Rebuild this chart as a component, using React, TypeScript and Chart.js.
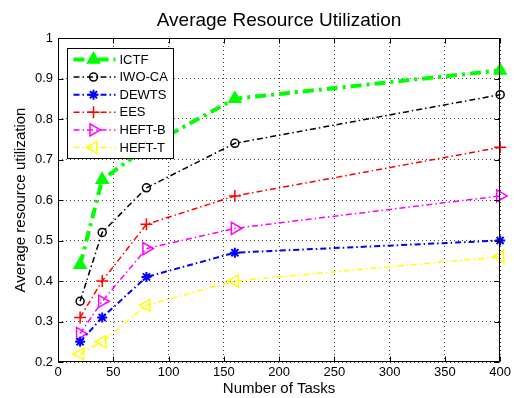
import React, { useEffect, useRef } from 'react';
import { Chart, registerables } from 'chart.js';

Chart.register(...registerables);

// ---- data ----
const taskCounts = [20, 40, 80, 160, 400];
const ictf = [0.44, 0.65, 0.73, 0.85, 0.92];
const iwoca = [0.35, 0.52, 0.63, 0.74, 0.86];
const dewts = [0.25, 0.31, 0.41, 0.47, 0.5];
const ees = [0.31, 0.4, 0.54, 0.61, 0.73];
const heftB = [0.27, 0.35, 0.48, 0.53, 0.61];
const heftT = [0.22, 0.25, 0.34, 0.4, 0.46];
const seriesNames = ['ICTF', 'IWO-CA', 'DEWTS', 'EES', 'HEFT-B', 'HEFT-T'];
const titleText = 'Average Resource Utilization';
const xTitle = 'Number of Tasks';
const yTitle = 'Average resource utilization';

const FONT = '"Liberation Sans", Arial, Helvetica, sans-serif';

type SeriesStyle = {
  color: string;
  width: number;
  dash: number[];
  marker: string;
  radius: number;
  rotation: number;
  filled: boolean;
  markerWidth: number;
};

const styles: SeriesStyle[] = [
  { color: '#00ff00', width: 4, dash: [11, 5, 3, 5], marker: 'triangle', radius: 7, rotation: 0, filled: true, markerWidth: 1.5 },
  { color: '#000000', width: 1.5, dash: [6, 3, 1.5, 3], marker: 'circle', radius: 4, rotation: 0, filled: false, markerWidth: 1.5 },
  { color: '#0000ff', width: 2, dash: [6, 3, 1.5, 3], marker: 'star', radius: 5, rotation: 0, filled: false, markerWidth: 2 },
  { color: '#ff0000', width: 1.5, dash: [6, 3, 1.5, 3], marker: 'cross', radius: 6, rotation: 0, filled: false, markerWidth: 1.5 },
  { color: '#ff00ff', width: 1.5, dash: [6, 3, 1.5, 3], marker: 'triangle', radius: 7, rotation: 90, filled: false, markerWidth: 1.5 },
  { color: '#ffff00', width: 1.5, dash: [6, 3, 1.5, 3], marker: 'triangle', radius: 7, rotation: -90, filled: false, markerWidth: 1.5 },
];

const seriesValues = [ictf, iwoca, dewts, ees, heftB, heftT];

function drawMarker(ctx: CanvasRenderingContext2D, s: SeriesStyle, x: number, y: number) {
  const r = s.radius;
  ctx.save();
  ctx.translate(x, y);
  ctx.rotate((s.rotation * Math.PI) / 180);
  ctx.setLineDash([]);
  ctx.strokeStyle = s.color;
  ctx.fillStyle = s.color;
  ctx.lineWidth = s.markerWidth;
  ctx.beginPath();
  if (s.marker === 'triangle') {
    for (let i = 0; i < 3; i++) {
      const a = (i * 2 * Math.PI) / 3;
      const px = Math.sin(a) * r;
      const py = -Math.cos(a) * r;
      if (i === 0) ctx.moveTo(px, py);
      else ctx.lineTo(px, py);
    }
    ctx.closePath();
    if (s.filled) ctx.fill();
    ctx.stroke();
  } else if (s.marker === 'circle') {
    ctx.arc(0, 0, r, 0, Math.PI * 2);
    ctx.stroke();
  } else if (s.marker === 'cross') {
    ctx.moveTo(-r, 0); ctx.lineTo(r, 0);
    ctx.moveTo(0, -r); ctx.lineTo(0, r);
    ctx.stroke();
  } else if (s.marker === 'star') {
    ctx.moveTo(-r, 0); ctx.lineTo(r, 0);
    ctx.moveTo(0, -r); ctx.lineTo(0, r);
    const d = r * Math.SQRT1_2;
    ctx.moveTo(-d, -d); ctx.lineTo(d, d);
    ctx.moveTo(-d, d); ctx.lineTo(d, -d);
    ctx.stroke();
  }
  ctx.restore();
}

const framePlugin = {
  id: 'frameAndLegend',
  afterDraw(chart: any) {
    const { ctx, chartArea: a, scales } = chart;
    const L = Math.round(a.left) + 0.5;
    const R = Math.round(a.right) - 0.5;
    const T = Math.round(a.top) + 0.5;
    const B = Math.round(a.bottom) - 0.5;
    ctx.save();

    // title centred over the plot area
    ctx.fillStyle = '#000';
    ctx.font = `19px ${FONT}`;
    ctx.textAlign = 'center';
    ctx.textBaseline = 'middle';
    ctx.fillText(titleText, (a.left + a.right) / 2, 21);

    ctx.setLineDash([]);
    ctx.strokeStyle = '#000';
    ctx.lineWidth = 1;
    ctx.beginPath();
    ctx.rect(L, T, R - L, B - T);
    // inward tick marks
    const tl = 5;
    scales.x.ticks.forEach((t: any) => {
      const px = Math.round(scales.x.getPixelForValue(t.value)) + 0.5;
      ctx.moveTo(px, B); ctx.lineTo(px, B - tl);
      ctx.moveTo(px, T); ctx.lineTo(px, T + tl);
    });
    scales.y.ticks.forEach((t: any) => {
      const py = Math.round(scales.y.getPixelForValue(t.value)) + 0.5;
      ctx.moveTo(L, py); ctx.lineTo(L + tl, py);
      ctx.moveTo(R, py); ctx.lineTo(R - tl, py);
    });
    ctx.stroke();

    // legend box
    const bx = a.left + 9.5;
    const by = a.top + 10.5;
    const bw = 106;
    const bh = 110;
    ctx.fillStyle = '#fff';
    ctx.fillRect(bx, by, bw, bh);
    ctx.strokeStyle = '#000';
    ctx.lineWidth = 1;
    ctx.strokeRect(bx, by, bw, bh);
    ctx.font = `13px ${FONT}`;
    ctx.textBaseline = 'middle';
    ctx.textAlign = 'left';
    seriesNames.forEach((name, i) => {
      const s = styles[i];
      const y = by + 11 + i * 17.6;
      const x0 = bx + 6;
      const x1 = bx + 48;
      ctx.save();
      ctx.strokeStyle = s.color;
      ctx.lineWidth = s.width;
      ctx.setLineDash(s.dash);
      ctx.beginPath();
      ctx.moveTo(x0, y);
      ctx.lineTo(x1, y);
      ctx.stroke();
      ctx.restore();
      drawMarker(ctx, s, (x0 + x1) / 2 - 1, y);
      ctx.fillStyle = '#000';
      ctx.fillText(name, bx + 52, y + 0.5);
    });
    ctx.restore();
  },
};

export default function App() {
  const canvasRef = useRef<HTMLCanvasElement | null>(null);

  useEffect(() => {
    document.body.style.margin = '0';
    const canvas = canvasRef.current;
    if (!canvas) return;

    const datasets = seriesNames.map((name, i) => {
      const s = styles[i];
      return {
        label: name,
        data: taskCounts.map((x, j) => ({ x, y: seriesValues[i][j] })),
        borderColor: s.color,
        backgroundColor: s.color,
        borderWidth: s.width,
        borderDash: s.dash,
        pointStyle: s.marker,
        pointRadius: s.radius,
        pointRotation: s.rotation,
        pointBorderColor: s.color,
        pointBackgroundColor: s.filled ? s.color : 'rgba(0,0,0,0)',
        pointBorderWidth: s.markerWidth,
        tension: 0,
        fill: false,
        clip: false as any,
      };
    });

    const chart = new Chart(canvas, {
      type: 'line',
      data: { datasets },
      plugins: [framePlugin],
      options: {
        animation: false,
        responsive: false,
        devicePixelRatio: 1,
        layout: { padding: { left: 0, right: 13, top: 38, bottom: 0 } },
        plugins: {
          legend: { display: false },
          tooltip: { enabled: false },
          title: { display: false },
        },
        scales: {
          x: {
            type: 'linear',
            min: 0,
            max: 400,
            ticks: {
              stepSize: 50,
              color: '#000',
              font: { family: FONT, size: 13 },
              padding: 3,
              maxRotation: 0,
            },
            grid: { color: '#444', lineWidth: 1, drawTicks: false },
            border: { display: false, dash: [1, 3] },
            title: {
              display: true,
              text: xTitle,
              color: '#000',
              font: { family: FONT, size: 15 },
              padding: { top: 0, bottom: 0 },
            },
            afterFit: (scale: any) => { scale.height = 36; },
          },
          y: {
            type: 'linear',
            min: 0.2,
            max: 1,
            ticks: {
              stepSize: 0.1,
              color: '#000',
              font: { family: FONT, size: 13 },
              padding: 5,
              callback: (v: any) => String(Number(Number(v).toFixed(1))),
            },
            grid: { color: '#444', lineWidth: 1, drawTicks: false },
            border: { display: false, dash: [1, 3] },
            title: {
              display: true,
              text: yTitle,
              color: '#000',
              font: { family: FONT, size: 15 },
              padding: { top: 12, bottom: 0 },
            },
            afterFit: (scale: any) => { scale.width = 58; },
          },
        },
      },
    });

    return () => chart.destroy();
  }, []);

  return (
    <div style={{ width: 514, height: 398 }}>
      <canvas ref={canvasRef} width={514} height={398} style={{ display: 'block' }} />
    </div>
  );
}
